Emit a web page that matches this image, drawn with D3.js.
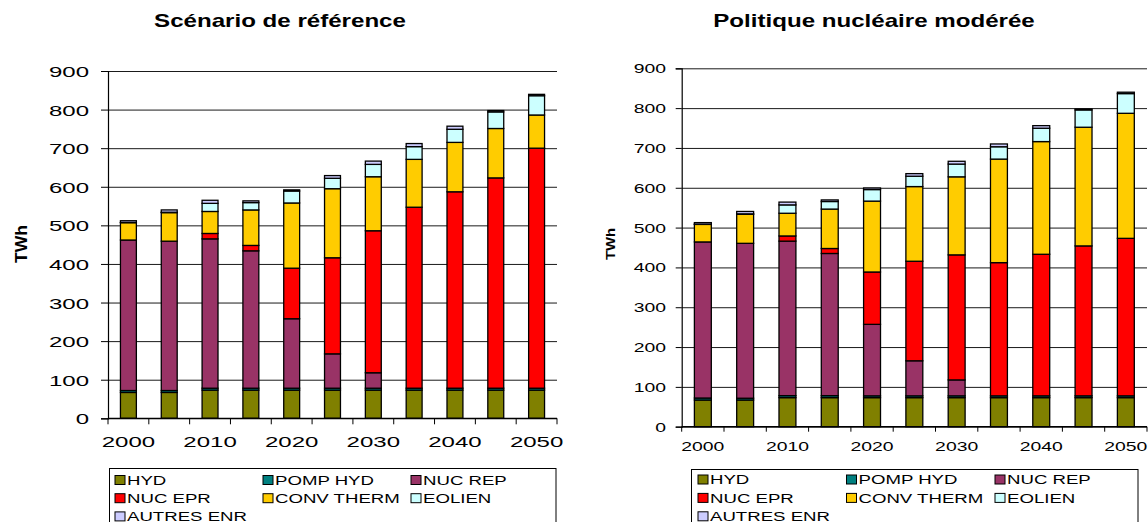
<!DOCTYPE html>
<html><head><meta charset="utf-8">
<script src="https://cdn.jsdelivr.net/npm/d3@7"></script>
<style>
html,body{margin:0;padding:0;background:#fff;}
text{font-family:"Liberation Sans",Arial,sans-serif;fill:#000;}
</style></head>
<body>
<svg id="c" width="1148" height="522"></svg>
<script>
// ---- data ----
const years = ["2000","2005","2010","2015","2020","2025","2030","2035","2040","2045","2050"];
const seriesNames = ["HYD","POMP HYD","NUC REP","NUC EPR","CONV THERM","EOLIEN","AUTRES ENR"];
const seriesColors = ["#808000","#008080","#993366","#FF0000","#FFCC00","#CCFFFF","#CCCCFF"];
const yTicks = [0,100,200,300,400,500,600,700,800,900];
const xTickLabels = ["2000","2010","2020","2030","2040","2050"];

// Scénario de référence
const refHyd     = [67, 67, 73, 73, 73, 73, 73, 73, 73, 73, 73];
const refPomp    = [5, 5, 5, 5, 5, 5, 5, 5, 5, 5, 5];
const refNucRep  = [390, 387, 387, 356, 180, 89, 40, 0, 0, 0, 0];
const refNucEpr  = [0, 0, 14, 14, 131, 249, 368, 469, 509, 545, 622];
const refConv    = [45, 74, 57, 92, 169, 179, 140, 124, 128, 128, 86];
const refEolien  = [0.5, 1, 21, 19, 31, 27, 32, 33, 34, 43, 50];
const refAutres  = [4.5, 6, 8, 4.5, 3, 7, 8.5, 8, 8, 3.5, 3.5];

// Politique nucléaire modérée
const modHyd     = [67, 67, 73, 73, 73, 73, 73, 73, 73, 73, 73];
const modPomp    = [5, 4.5, 5, 5, 4.5, 4.5, 4.5, 4.5, 4.5, 4.5, 4.5];
const modNucRep  = [392, 389, 388, 357, 179.5, 88, 40, 0, 0, 0, 0];
const modNucEpr  = [0, 0, 13, 12.5, 131.5, 250, 314, 334.5, 355.5, 376.5, 395.5];
const modConv    = [44, 73, 57, 99, 178, 187.5, 196, 260, 283, 298, 314];
const modEolien  = [0.5, 1, 21, 19, 29, 26, 32, 31, 33.5, 43.5, 49.5];
const modAutres  = [4, 6, 7, 4, 4, 6.5, 7, 7, 6.5, 2.5, 3.5];

const svg = d3.select("#c");

function rows(arrs){
  return years.map((y,i)=>{const o={year:y}; seriesNames.forEach((s,k)=>o[s]=arrs[k][i]); return o;});
}

function drawChart(cfg){
  const g = svg.append("g");
  const x = d3.scaleBand().domain(years).range([cfg.x0,cfg.x1])
      .paddingInner(cfg.pad).paddingOuter(cfg.pad/2);
  const y = d3.scaleLinear().domain([0,900]).range([cfg.yb,cfg.yt]);
  const w = cfg.x1 - cfg.x0;

  // gridlines
  const grid = g.append("g").attr("transform",`translate(${cfg.x0},0)`)
    .call(d3.axisLeft(y).tickValues(yTicks).tickSize(-w).tickFormat(""));
  grid.select(".domain").remove();
  grid.selectAll("line").attr("stroke","#1a1a1a").attr("stroke-width",1);

  // bars
  const stack = d3.stack().keys(seriesNames)(rows(cfg.data));
  g.append("g").selectAll("g").data(stack).join("g")
    .attr("fill",(d,i)=>seriesColors[i])
    .selectAll("rect").data(d=>d).join("rect")
    .attr("x",d=>x(d.data.year))
    .attr("width",x.bandwidth())
    .attr("y",d=>y(d[1]))
    .attr("height",d=>Math.max(0,y(d[0])-y(d[1])))
    .attr("stroke","#000").attr("stroke-width",1.3);

  // y axis
  const ya = g.append("g").attr("transform",`translate(${cfg.x0},0)`)
    .call(d3.axisLeft(y).tickValues(yTicks).tickSize(cfg.ytick).tickPadding(0));
  ya.select(".domain").attr("stroke","#000").attr("stroke-width",1.2);
  ya.selectAll("line").attr("stroke","#000");
  ya.selectAll("text")
    .attr("font-size",cfg.fs).attr("text-anchor","end")
    .attr("x",-cfg.ylabGap/cfg.sx).attr("dy","0.36em")
    .attr("transform",`scale(${cfg.sx},1)`);

  // x axis labels at every other category
  const xa = g.append("g").attr("transform",`translate(0,${cfg.yb})`)
    .call(d3.axisBottom(x).tickValues(xTickLabels).tickSize(0).tickPadding(0));
  xa.select(".domain").remove();
  xa.selectAll("text")
    .attr("font-size",cfg.fs).attr("y",cfg.xlabY).attr("dy",0).attr("x",0)
    .attr("transform",`scale(${cfg.sx},1)`);
  g.append("line").attr("x1",cfg.x0).attr("x2",cfg.x1).attr("y1",cfg.yb).attr("y2",cfg.yb)
    .attr("stroke","#000").attr("stroke-width",1.2);
  const bounds = d3.range(years.length+1).map(i=>x.range()[0]+i*x.step());
  g.append("g").selectAll("line").data(bounds).join("line")
    .attr("x1",d=>d).attr("x2",d=>d).attr("y1",cfg.yb).attr("y2",cfg.yb+cfg.xtick)
    .attr("stroke","#000");

  // title
  g.append("text").attr("transform",`translate(${cfg.titleX},27) scale(1.34,1)`)
    .attr("text-anchor","middle").attr("font-size",18).attr("font-weight","bold")
    .text(cfg.title);

  // y label
  g.append("text").attr("transform",`translate(${cfg.twhX},244) rotate(-90) scale(1.1,1)`)
    .attr("text-anchor","middle").attr("font-size",cfg.twhFs).attr("font-weight","bold")
    .text("TWh");

  // legend
  const L = cfg.leg;
  const lg = g.append("g");
  lg.append("rect").attr("x",L.x).attr("y",L.y).attr("width",L.w).attr("height",80)
    .attr("fill","#fff").attr("stroke","#000").attr("stroke-width",1);
  seriesNames.forEach((s,i)=>{
    const col = i%3, row = Math.floor(i/3);
    const cx = L.sx + col*L.colW, cy = L.r0 + row*L.rowH;
    lg.append("rect").attr("x",cx).attr("y",cy-4.5).attr("width",10).attr("height",9)
      .attr("fill",seriesColors[i]).attr("stroke","#000").attr("stroke-width",1);
    lg.append("text").attr("transform",`translate(${cx+12},${cy}) scale(1.38,1)`)
      .attr("font-size",13.5).attr("dy","0.36em").text(s);
  });
}

drawChart({
  data:[refHyd,refPomp,refNucRep,refNucEpr,refConv,refEolien,refAutres],
  x0:108, x1:557, yt:71, yb:418.3, pad:0.61,
  fs:15.5, sx:1.55, ytick:7, ylabGap:19, xtick:6, xlabY:29,
  title:"Scénario de référence", titleX:280,
  twhX:26.7, twhFs:16,
  leg:{x:109.5, y:468.5, w:446.5, sx:115, colW:148, r0:480, rowH:18.2}
});
drawChart({
  data:[modHyd,modPomp,modNucRep,modNucEpr,modConv,modEolien,modAutres],
  x0:681.7, x1:1147, yt:68.3, yb:426.7, pad:0.6,
  fs:12.5, sx:1.55, ytick:6, ylabGap:15.7, xtick:5, xlabY:24.8,
  title:"Politique nucléaire modérée", titleX:874,
  twhX:615, twhFs:13.5,
  leg:{x:691.5, y:469.5, w:446.5, sx:698, colW:148.5, r0:479.5, rowH:18.4}
});
</script>
</body></html>
